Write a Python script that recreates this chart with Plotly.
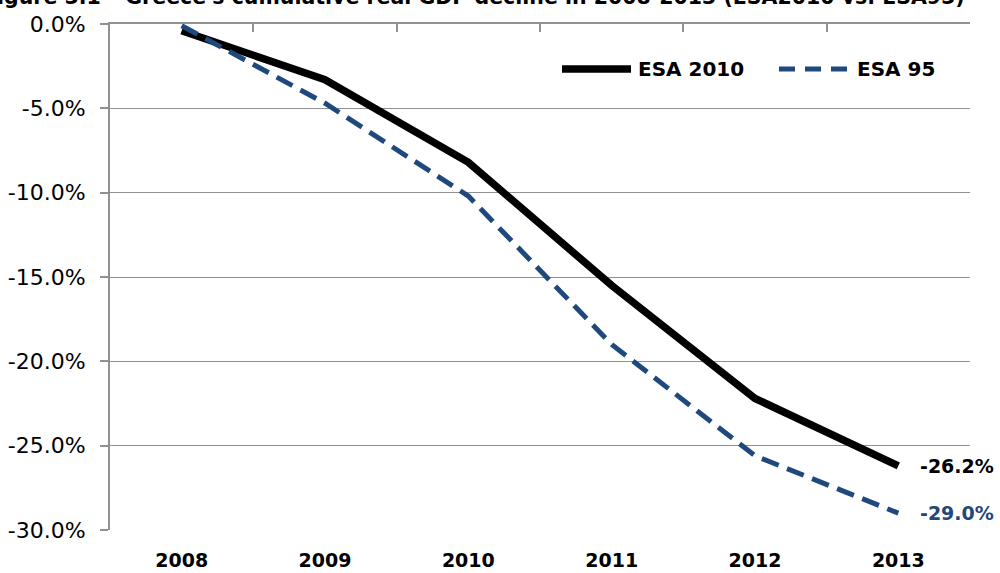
import plotly.graph_objects as go

years = ["2008", "2009", "2010", "2011", "2012", "2013"]
esa2010 = [-0.4, -3.3, -8.2, -15.5, -22.2, -26.2]
esa95 = [-0.1, -4.7, -10.2, -19.0, -25.6, -29.0]
y_ticks = [0, -5, -10, -15, -20, -25, -30]
y_tick_labels = ["0.0%", "-5.0%", "-10.0%", "-15.0%", "-20.0%", "-25.0%", "-30.0%"]
series_names = ["ESA 2010", "ESA 95"]
title_text = "Figure 5.1 \u2013 Greece's cumulative real GDP decline in 2008-2013 (ESA2010 vs. ESA95)"

BLACK = "#000000"
BLUE = "#1F497D"
GRID = "#919191"
FONT = "DejaVu Sans"
DASH = "18px,9px"

# pixel helpers for layout (plot area: x 110..970, y 24..530)
W, H = 1000, 573
L, R, T, B = 110, 970, 24, 530
def px(x):
    return (x - L) / (R - L)
def py(y):
    return (B - y) / (B - T)

fig = go.Figure()
fig.add_trace(go.Scatter(x=years, y=esa2010, mode="lines", name=series_names[0],
                         line=dict(color=BLACK, width=7.5), showlegend=False))
fig.add_trace(go.Scatter(x=years, y=esa95, mode="lines", name=series_names[1],
                         line=dict(color=BLUE, width=5, dash=DASH), showlegend=False))
# invisible trace to anchor the top tick axis
fig.add_trace(go.Scatter(x=[-0.5, 5.5], y=[0, 0], xaxis="x2", mode="lines",
                         line=dict(width=0), showlegend=False, hoverinfo="skip"))

# end-point value labels
fig.add_annotation(xref="paper", x=px(918), yref="y", y=esa2010[-1], yanchor="middle",
                   text="<b>%.1f%%</b>" % esa2010[-1], showarrow=False, xanchor="left",
                   font=dict(family=FONT, size=19, color=BLACK))
fig.add_annotation(xref="paper", x=px(918), yref="y", y=esa95[-1], yanchor="middle",
                   text="<b>%.1f%%</b>" % esa95[-1], showarrow=False, xanchor="left",
                   font=dict(family=FONT, size=19, color=BLUE))

# custom legend
fig.add_shape(type="line", xref="paper", yref="paper", x0=px(562), x1=px(631),
              y0=py(69), y1=py(69), line=dict(color=BLACK, width=7.5))
fig.add_annotation(xref="paper", yref="paper", x=px(636), y=py(69), xanchor="left",
                   yanchor="middle", text="<b>" + series_names[0] + "</b>", showarrow=False,
                   font=dict(family=FONT, size=20, color=BLACK))
fig.add_shape(type="line", xref="paper", yref="paper", x0=px(779), x1=px(848),
              y0=py(69), y1=py(69), line=dict(color=BLUE, width=5, dash="16px,10px"))
fig.add_annotation(xref="paper", yref="paper", x=px(855), y=py(69), xanchor="left",
                   yanchor="middle", text="<b>" + series_names[1] + "</b>", showarrow=False,
                   font=dict(family=FONT, size=20, color=BLACK))

# title (partly cut off at the top, as in the reference)
fig.add_annotation(xref="paper", yref="paper", x=px(967), y=py(11), xanchor="right",
                   yanchor="bottom", text="<b>" + title_text + "</b>", showarrow=False,
                   font=dict(family=FONT, size=20.5, color=BLACK))

fig.update_layout(
    template="none",
    width=W, height=H,
    margin=dict(l=L, r=W - R, t=T, b=H - B, pad=0),
    paper_bgcolor="white", plot_bgcolor="white",
    font=dict(family=FONT, color=BLACK),
    showlegend=False,
    xaxis=dict(type="category", range=[-0.5, 5.5], showgrid=False, showline=False,
               ticks="", tickfont=dict(family=FONT, size=19, color=BLACK),
               tickprefix="<b>", ticksuffix="</b>", zeroline=False, automargin=False,
               ticklabelstandoff=17),
    xaxis2=dict(overlaying="x", side="top", range=[-0.5, 5.5], tickmode="array",
                tickvals=[-0.5 + i for i in range(7)], ticks="inside", ticklen=8,
                tickcolor=GRID, tickwidth=2, showticklabels=False, showline=True,
                linecolor=GRID, linewidth=2, showgrid=False, zeroline=False,
                automargin=False),
    yaxis=dict(range=[-30, 0], tickmode="array", tickvals=y_ticks, ticktext=y_tick_labels,
               showgrid=True, gridcolor=GRID, gridwidth=1.3, showline=True,
               linecolor=GRID, linewidth=2, ticks="outside", ticklen=8, tickcolor=GRID,
               tickwidth=2, zeroline=False, ticklabelstandoff=10, automargin=False,
               tickfont=dict(family=FONT, size=22, color=BLACK)),
)

fig.write_html("out.html", config={"displayModeBar": False},
               post_script="document.body.style.margin='0';document.body.style.overflow='hidden';")
